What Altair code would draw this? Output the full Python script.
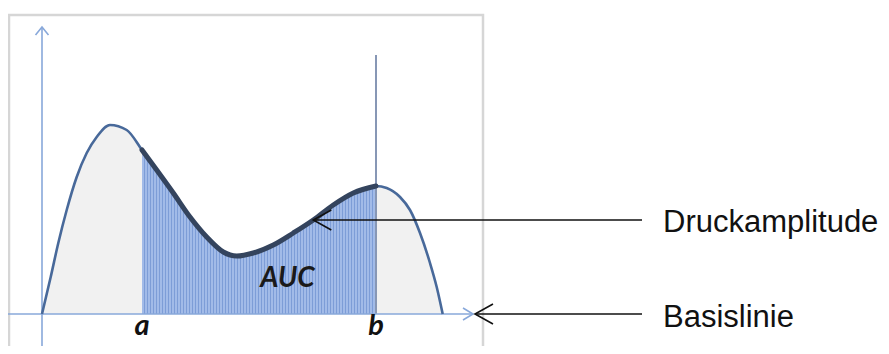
import altair as alt
import pandas as pd

# ---- data (diagram units: 1 unit ~ 10 px) ----
curve_x = [0, 0.87, 1.63, 2.47, 3.47, 4.47, 5.47, 6.8, 8.47, 10.0, 11.47, 13.13, 14.8,
           16.47, 18.13, 19.47, 21.13, 23.13, 25.13, 27.13, 29.13, 31.13, 33.4, 34.47,
           35.8, 36.8, 37.8, 38.8, 39.47, 40.07]
curve_y = [0, 3.7, 7.1, 10.4, 13.7, 16.1, 17.7, 18.9, 18.4, 16.4, 14.4, 12.1, 9.7,
           7.7, 6.2, 5.8, 6.1, 6.9, 8.1, 9.4, 10.9, 12.1, 12.8, 12.6,
           11.7, 10.4, 8.1, 5.1, 2.7, 0]
a_x = 10.0
b_x = 33.4
b_line_top = 25.9
x_axis_range = [-3.4, 43.1]
y_axis_range = [-4.0, 28.7]
frame_x = [-3.3, 44.1]
frame_y = [-5.0, 29.9]

point_labels = ["a", "b"]
point_label_x = [a_x, b_x]
auc_label = "AUC"
auc_pos = [24.55, 2.7]

ann_texts = ["Druckamplitude", "Basislinie"]
ann_tip_x = [27.13, 43.3]
ann_tip_y = [9.4, 0.0]
ann_line_end_x = 60.0
ann_text_x = 62.1
ann_text_baseline_y = [8.2, -1.3]

X_DOMAIN = [-3.4, 83.9]
Y_DOMAIN = [-3.2, 30.6]

curve = pd.DataFrame({"x": curve_x, "y": curve_y})
xs = alt.Scale(domain=X_DOMAIN, nice=False, zero=False)
ys = alt.Scale(domain=Y_DOMAIN, nice=False, zero=False)

def X(field="x", **kw):
    return alt.X(field, type="quantitative", scale=xs, axis=None, **kw)

def Y(field="y", **kw):
    return alt.Y(field, type="quantitative", scale=ys, axis=None, **kw)

# frame
frame = alt.Chart(pd.DataFrame({"x": [frame_x[0]], "x2": [frame_x[1]],
                                "y": [frame_y[0]], "y2": [frame_y[1]]})).mark_rect(
    fill="white", stroke="#d6d6d6", strokeWidth=2.5
).encode(x=X("x"), x2="x2", y=Y("y"), y2="y2")

# gray area under whole curve
gray_area = alt.Chart(curve).mark_area(
    color="#f1f1f1", interpolate="monotone"
).encode(x=X(), y=Y())

# striped blue AUC region (78 stripes of 3 px across 234 px)
light, dark = "#a2bbe8", "#7d9dd7"
n = 78
stops = []
for i in range(n):
    o0, o1, o2 = i / n, (i + 2 / 3) / n, (i + 1) / n
    stops += [alt.GradientStop(color=light, offset=o0),
              alt.GradientStop(color=light, offset=o1),
              alt.GradientStop(color=dark, offset=o1),
              alt.GradientStop(color=dark, offset=min(o2, 1.0))]
grad = alt.LinearGradient(gradient="linear", stops=stops, x1=0, x2=1, y1=0, y2=0)

sub = alt.Chart(curve).transform_filter(
    (alt.datum.x >= a_x - 1e-9) & (alt.datum.x <= b_x + 1e-9))
blue_area = sub.mark_area(color=grad, interpolate="monotone").encode(x=X(), y=Y())

# vertical line at b
b_line = alt.Chart(pd.DataFrame({"x": [b_x], "y": [0.0], "y2": [b_line_top]})).mark_rule(
    color="#8797b5", strokeWidth=2
).encode(x=X(), y=Y(), y2="y2")

# axes
axis_col = "#88a8da"
x_axis = alt.Chart(pd.DataFrame({"x": [x_axis_range[0]], "x2": [x_axis_range[1]], "y": [0.0]})).mark_rule(
    color=axis_col, strokeWidth=1.6
).encode(x=X(), x2="x2", y=Y())
y_axis = alt.Chart(pd.DataFrame({"x": [0.0], "y": [y_axis_range[0]], "y2": [y_axis_range[1]]})).mark_rule(
    color=axis_col, strokeWidth=1.6
).encode(x=X(), y=Y(), y2="y2")
x_head = alt.Chart(pd.DataFrame({"x": [x_axis_range[1]], "y": [0.0]})).mark_point(
    shape="M-1,-0.6L0,0L-1,0.6", filled=False, color=axis_col, strokeWidth=1.6, size=400, opacity=1
).encode(x=X(), y=Y())
y_head = alt.Chart(pd.DataFrame({"x": [0.0], "y": [y_axis_range[1]]})).mark_point(
    shape="M-0.65,0.8L0,0L0.65,0.8", filled=False, color=axis_col, strokeWidth=1.6, size=400, opacity=1
).encode(x=X(), y=Y())

# curve lines
curve_line = alt.Chart(curve).mark_line(
    color="#48699a", strokeWidth=2.6, interpolate="monotone"
).encode(x=X(), y=Y())
auc_line = sub.mark_line(
    color="#34445e", strokeWidth=5, interpolate="monotone", strokeCap="round"
).encode(x=X(), y=Y())

# labels a, b, AUC
lab_df = pd.DataFrame({"x": point_label_x, "y": [-2.1, -2.1], "t": point_labels})
ab_text = alt.Chart(lab_df).mark_text(
    font="Lato", fontWeight="bold", fontStyle="italic", fontSize=29,
    align="center", baseline="alphabetic", color="#111111"
).encode(x=X(), y=Y(), text="t:N")
auc_text = alt.Chart(pd.DataFrame({"x": [auc_pos[0]], "y": [auc_pos[1]], "t": [auc_label]})).mark_text(
    font="Lato", fontWeight="bold", fontStyle="italic", fontSize=28,
    align="center", baseline="alphabetic", color="#1a1a1a"
).encode(x=X(), y=Y(), text="t:N")

# annotation arrows
ann = pd.DataFrame({"x": ann_tip_x, "x2": [ann_line_end_x] * 2, "y": ann_tip_y,
                    "tx": [ann_text_x] * 2, "ty": ann_text_baseline_y, "t": ann_texts})
ann_lines = alt.Chart(ann).mark_rule(color="#111111", strokeWidth=1.6).encode(
    x=X(), x2="x2", y=Y())
ann_heads = alt.Chart(ann).mark_point(
    shape="M1.8,-1L0,0L1.8,1", filled=False, color="#111111", strokeWidth=1.6, size=400, opacity=1
).encode(x=X(), y=Y())
ann_text = alt.Chart(ann).mark_text(
    font="Liberation Sans", fontSize=31, align="left", baseline="alphabetic", color="#111111"
).encode(x=X("tx"), y=Y("ty"), text="t:N")

chart = alt.layer(
    frame, gray_area, blue_area, b_line, x_axis, y_axis, x_head, y_head,
    curve_line, auc_line, ab_text, auc_text, ann_lines, ann_heads, ann_text
).properties(
    width=873, height=338, padding=0, autosize=alt.AutoSizeParams(type="none")
).configure_view(stroke=None)

chart.save("out.html", embed_options={"renderer": "svg", "actions": False})
